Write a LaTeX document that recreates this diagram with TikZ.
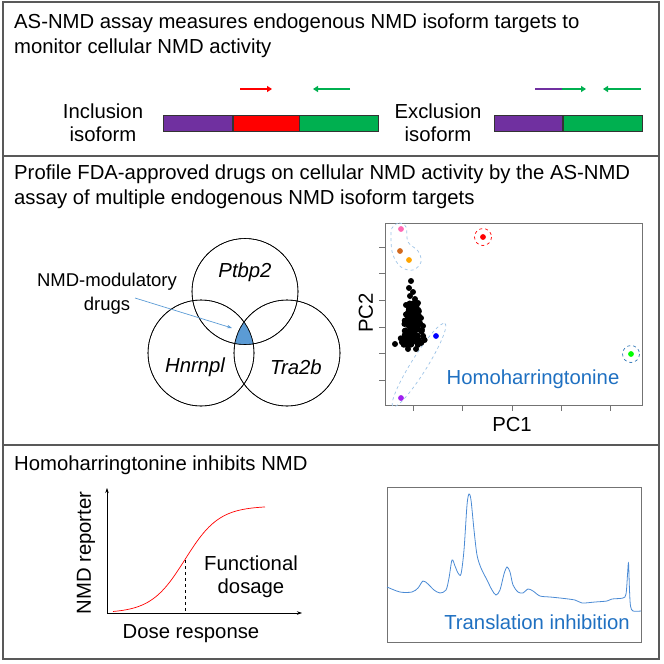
\documentclass[tikz,border=0pt]{standalone}
\usepackage{fontspec}
\setmainfont{Liberation Sans}
\usetikzlibrary{arrows.meta,positioning,calc}
\definecolor{isopurple}{HTML}{7030A0}
\definecolor{isored}{HTML}{FF0000}
\definecolor{isogreen}{HTML}{00B050}
\definecolor{venblue}{HTML}{5B9BD5}
\definecolor{hhtblue}{HTML}{1F70C1}
\definecolor{hullblue}{HTML}{9DC3E6}
\definecolor{ringblue}{HTML}{2E75B6}
\definecolor{traceblue}{HTML}{4A8AD4}
\definecolor{framegray}{HTML}{595959}
\definecolor{pcpink}{HTML}{FF69B4}
\definecolor{pcbrown}{HTML}{D2691E}
\definecolor{pcorange}{HTML}{FFA500}
\definecolor{pcpurple}{HTML}{A020F0}
\tikzset{
  panelframe/.style={draw=framegray,line width=1.3pt},
  lbl/.style={inner sep=0pt,font=\fontsize{20.3}{23}\selectfont},
  paneltitle/.style={lbl,anchor=base west},
  exon/.style={draw=black!80,line width=0.6pt,minimum height=16pt,inner sep=0pt},
  primer/.style={line width=2pt,-{Triangle[length=5pt,width=6pt]}},
  vcircle/.style={circle,draw,line width=0.6pt,minimum size=106pt,inner sep=0pt},
  hull/.style={draw=hullblue,dashed,line width=0.7pt},
  plotbox/.style={draw=black!55,line width=0.9pt},
  pctick/.style={draw=black!55,line width=0.9pt},
  doseaxis/.style={line width=0.6pt,-{Stealth[length=5pt,width=3.5pt]}},
}
\begin{document}
\begin{tikzpicture}[x=1pt,y=-1pt]
\useasboundingbox (0,0) rectangle (664,664);

\draw[panelframe] (3,2) rectangle (659,659);
\draw[panelframe] (3,156) -- (659,156);
\draw[panelframe] (3,445) -- (659,445);

% panel 1
\node[paneltitle] (t1a) at (14,28.5) {AS-NMD assay measures endogenous NMD isoform targets to};
\node[paneltitle] (t1b) at (14,53) {monitor cellular NMD activity};

\node[lbl,align=center] (inclbl) at (103,123) {Inclusion\\isoform};
\node[exon,fill=isopurple,minimum width=69pt,anchor=west] (inc1) at (163,123) {};
\node[exon,fill=isored,minimum width=66pt,right=0pt of inc1] (inc2) {};
\node[exon,fill=isogreen,minimum width=79pt,right=0pt of inc2] (inc3) {};

\node[lbl,align=center] (exclbl) at (438,123) {Exclusion\\isoform};
\node[exon,fill=isopurple,minimum width=68pt,anchor=west] (exc1) at (494,123) {};
\node[exon,fill=isogreen,minimum width=79pt,right=0pt of exc1] (exc2) {};

\draw[primer,isored] (240,89) -- (272,89);
\draw[primer,isogreen] (350,89) -- (313,89);
\draw[line width=2pt,isopurple] (535,89) -- (562,89);
\draw[primer,isogreen] (562,89) -- (586,89);
\draw[primer,isogreen] (641,89) -- (603,89);

% panel 2
\node[paneltitle] (t2a) at (14,179) {Profile FDA-approved drugs on cellular NMD activity by the AS-NMD};
\node[paneltitle] (t2b) at (14,204) {assay of multiple endogenous NMD isoform targets};

\node[vcircle] (ptbp) at (245,291.5) {};
\node[vcircle] (hnrn) at (201,353) {};
\node[vcircle] (tra) at (287,353) {};
\begin{scope}
  \clip (ptbp.center) circle (53);
  \clip (hnrn.center) circle (53);
  \fill[venblue] (tra.center) circle (53);
\end{scope}
\draw[line width=0.6pt] (ptbp.center) circle (53) (hnrn.center) circle (53) (tra.center) circle (53);
\node[lbl,font=\fontsize{20.3}{23}\selectfont\itshape] (ptbplbl) at (245,272) {Ptbp2};
\node[lbl,font=\fontsize{20.3}{23}\selectfont\itshape] (hnrnlbl) at (195,367) {Hnrnpl};
\node[lbl,font=\fontsize{20.3}{23}\selectfont\itshape] (tralbl) at (296,367) {Tra2b};

\node[lbl,align=center,font=\fontsize{18.5}{24}\selectfont] (drugs) at (107,294) {NMD-modulatory\\drugs};
\coordinate (astart) at (135,298);
\coordinate (core) at (232,328);
\draw[venblue,line width=0.7pt,-{Stealth[length=5pt,width=3.5pt]}] (astart) -- (core);

% PCA plot
\draw[plotbox] (385,223) rectangle (642,405);
\foreach \tx in {413,462,512,561,610}
  \draw[pctick] (\tx,405) -- (\tx,411);
\foreach \ty in {247,273,300,327,353,380}
  \draw[pctick] (385,\ty) -- (379,\ty);
\node[lbl] (pc1) at (512,425) {PC1};
\node[lbl,rotate=90] (pc2) at (366,313) {PC2};

\draw[hull] plot[smooth cycle,tension=0.6] coordinates {(392,228) (399,223) (406,227) (408,242) (418,251) (421,262) (413,270) (401,267) (393,255) (391,240)};
\draw[hull,rotate around={58:(419,365)}] (419,365) ellipse (49 and 8);
\draw[isored,dashed,line width=0.7pt] (483,237) circle (8.5);
\draw[ringblue,dashed,line width=0.7pt] (631,354) circle (8.5);

\fill[pcpink] (401,229) circle (2.9);
\fill[pcbrown] (400,251) circle (2.9);
\fill[pcorange] (409,260) circle (2.9);
\fill[isored] (483,237) circle (2.9);
\fill[blue] (436,336) circle (2.9);
\fill[pcpurple] (401,398) circle (2.9);
\fill[green] (631,354) circle (2.9);

\pgfmathsetseed{4}
\foreach \k in {1,...,230}{
  \pgfmathsetmacro{\cy}{303+42*rnd}
  \pgfmathsetmacro{\cx}{412.5+(6+0.2*(\cy-303))*(rnd+rnd-1)}
  \fill (\cx,\cy) circle (3);
}
\foreach \px/\py in {411/281,409/288,413/292,410/296,415/299,418/303,406/305,421/318,423/326,395/344,408/349,416/349}
  \fill (\px,\py) circle (3);

\node[lbl,text=hhtblue] (hht) at (533,379) {Homoharringtonine};

% panel 3
\node[paneltitle] (t3) at (14,470) {Homoharringtonine inhibits NMD};

\coordinate (origin) at (107,613);
\coordinate (ytop) at (107,488);
\coordinate (xend) at (302,613);
\draw[doseaxis] (origin) -- (ytop);
\draw[doseaxis] (origin) -- (xend);
\draw[isored,line width=0.7pt] plot[domain=113:265,samples=80] (\x,{613-107/(1+exp(-(\x-185)/17))});
\coordinate (dosept) at (185,560);
\draw[dashed,line width=0.5pt] (dosept) -- (dosept |- origin);
\node[lbl,rotate=90] (nmdrep) at (86,553) {NMD reporter};
\node[lbl] (doseresp) at (191,634) {Dose response};
\node[lbl,align=center] (funcdose) at (251,577) {Functional\\dosage};

\draw[plotbox] (387,487) rectangle (641,642);
\draw[traceblue,line width=0.8pt] plot[smooth,tension=0.5] coordinates {(387,587) (400,592) (412,592) (418,588) (423,581) (428,584) (434,590) (440,593) (446,590) (449,578) (452,560) (455,566) (458,573) (461,574) (464,550) (467,505) (469,494) (471,500) (474,530) (477,555) (481,568) (487,580) (492,590) (496,595) (500,590) (504,574) (507,567) (510,572) (513,585) (518,592) (523,593) (528,589) (533,591) (540,596) (550,597) (560,598) (575,600) (582,603) (595,602) (607,601) (612,599) (623,598) (626,594) (627.5,575) (628.5,563) (629.5,590) (630.5,606) (633,611) (641,611)};
\node[lbl,text=hhtblue] (transinh) at (537,622) {Translation inhibition};

\end{tikzpicture}
\end{document}
